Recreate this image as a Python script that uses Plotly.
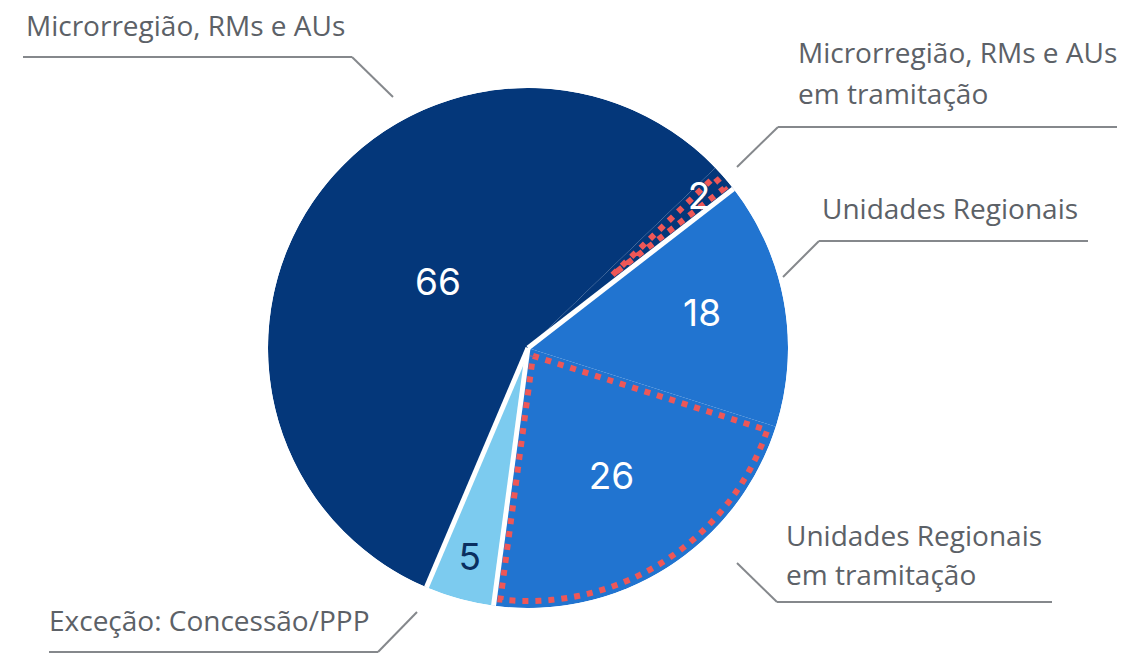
import numpy as np
import plotly.graph_objects as go

# ---------------- data ----------------
categories = [
    "Microrregião, RMs e AUs",
    "Microrregião, RMs e AUs em tramitação",
    "Unidades Regionais",
    "Unidades Regionais em tramitação",
    "Exceção: Concessão/PPP",
]
values = [66, 2, 18, 26, 5]
value_labels = ["66", "2", "18", "26", "5"]

# ---------------- style ----------------
slice_colors = ["#04377a", "#04377a", "#2174d0", "#2174d0", "#7ccbef"]
text_colors = ["#ffffff", "#ffffff", "#ffffff", "#ffffff", "#0a2f60"]
label_radius = [0.42, 0.87, 0.68, 0.60, 0.85]
dotted_outline = [False, True, False, True, False]
white_gap_before = [True, False, True, False, True]  # separator at start edge of slice
start_angle = -157.0  # degrees clockwise from 12 o'clock, start of first slice

W, H = 1140, 657
CX, CY, R = 528, 348, 260  # pie centre / radius in pixels

total = float(sum(values))
spans = [v / total * 360.0 for v in values]
starts = list(start_angle + np.concatenate([[0.0], np.cumsum(spans)[:-1]]))
mids = [s + sp / 2.0 for s, sp in zip(starts, spans)]

fig = go.Figure()

# slices
fig.add_trace(go.Barpolar(
    r=[1.0] * len(values),
    theta=mids,
    width=spans,
    marker=dict(color=slice_colors, line=dict(width=0)),
    hoverinfo="skip",
    showlegend=False,
))

# white separators
for i, flag in enumerate(white_gap_before):
    if flag:
        fig.add_trace(go.Scatterpolar(
            r=[0, 1.03], theta=[starts[i], starts[i]], mode="lines",
            line=dict(color="white", width=5), hoverinfo="skip", showlegend=False,
        ))


def inset_sector(a_deg, b_deg, d, rout, n=80):
    a, b = np.radians(a_deg), np.radians(b_deg)
    h = (b - a) / 2.0
    ua = np.array([np.sin(a), np.cos(a)])
    ub = np.array([np.sin(b), np.cos(b)])
    na = np.array([np.cos(a), -np.sin(a)])
    nb = -np.array([np.cos(b), -np.sin(b)])
    t0 = d / np.tan(h)
    t1 = np.sqrt(rout ** 2 - d ** 2)
    pts = []
    pts.append(t0 * ua + d * na)
    pts.append(t1 * ua + d * na)
    da = np.arcsin(d / rout)
    for th in np.linspace(a + da, b - da, n):
        pts.append(rout * np.array([np.sin(th), np.cos(th)]))
    pts.append(t1 * ub + d * nb)
    pts.append(t0 * ub + d * nb)
    pts.append(pts[0])
    pts = np.array(pts)
    rr = np.hypot(pts[:, 0], pts[:, 1])
    tt = np.degrees(np.arctan2(pts[:, 0], pts[:, 1]))
    return rr, tt


for i, flag in enumerate(dotted_outline):
    if flag:
        rr, tt = inset_sector(starts[i], starts[i] + spans[i], 6.0 / R, 1 - 7.0 / R)
        fig.add_trace(go.Scatterpolar(
            r=rr, theta=tt, mode="lines",
            line=dict(color="#ee5757", width=6, dash="6px,7px"),
            hoverinfo="skip", showlegend=False,
        ))

# value labels
fig.add_trace(go.Scatterpolar(
    r=label_radius, theta=mids, mode="text", text=value_labels,
    textfont=dict(family="Inter, Roboto, sans-serif", size=37, color=text_colors),
    hoverinfo="skip", showlegend=False,
))

fig.update_layout(
    width=W, height=H,
    margin=dict(l=0, r=0, t=0, b=0),
    paper_bgcolor="white",
    plot_bgcolor="white",
    showlegend=False,
    polar=dict(
        domain=dict(x=[(CX - R) / W, (CX + R) / W], y=[(H - CY - R) / H, (H - CY + R) / H]),
        bgcolor="rgba(0,0,0,0)",
        bargap=0,
        hole=0,
        angularaxis=dict(rotation=90, direction="clockwise", visible=False,
                         showgrid=False, showline=False, showticklabels=False, ticks=""),
        radialaxis=dict(range=[0, 1], visible=False, showgrid=False,
                        showline=False, showticklabels=False, ticks=""),
    ),
)

# callout labels (text lines) and leader lines, in pixel positions
label_font = dict(family="Open Sans, sans-serif", size=28, color="#5c6167")
callouts = [
    # (text lines, text x, text line centres y, polyline points)
    (["Microrregião, RMs e AUs"], 24, [25], [(23, 57), (352, 57), (393, 97)]),
    (["Microrregião, RMs e AUs", "em tramitação"], 796, [52, 93],
     [(1117, 127), (778, 127), (737, 167)]),
    (["Unidades Regionais"], 820, [208], [(1088, 241), (819, 241), (783, 277)]),
    (["Unidades Regionais", "em tramitação"], 784, [535, 574],
     [(1052, 602), (777, 602), (737, 563)]),
    (["Exceção: Concessão/PPP"], 47, [620], [(49, 652), (378, 652), (417, 612)]),
]

for lines, tx, tys, poly in callouts:
    for txt, ty in zip(lines, tys):
        fig.add_annotation(
            x=tx / W, y=1 - ty / H, xref="paper", yref="paper",
            text=txt, showarrow=False, xanchor="left", yanchor="middle",
            font=label_font,
        )
    for (x0, y0), (x1, y1) in zip(poly[:-1], poly[1:]):
        fig.add_shape(
            type="line", xref="paper", yref="paper",
            x0=x0 / W, y0=1 - y0 / H, x1=x1 / W, y1=1 - y1 / H,
            line=dict(color="#85888c", width=2),
        )

fig.write_html(
    "out.html",
    config={"displayModeBar": False},
    post_script="document.body.style.margin='0';document.body.style.overflow='hidden';",
)
